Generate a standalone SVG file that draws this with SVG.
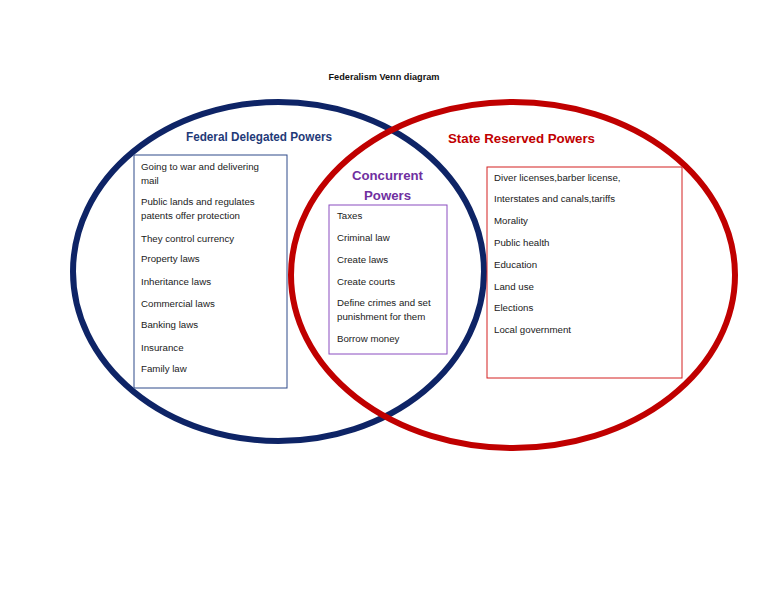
<svg xmlns="http://www.w3.org/2000/svg" width="768" height="594" viewBox="0 0 768 594">
<style>
.item{font-family:"Liberation Sans",Arial,sans-serif;font-size:9.7px;fill:#1a1a1a}
.head{font-family:"Liberation Sans",Arial,sans-serif;font-size:13px;font-weight:bold}
.ring{fill:none;stroke-width:6}
</style>
<rect width="768" height="594" fill="#ffffff"/>
<text x="384" y="80" text-anchor="middle" font-family="Liberation Sans, Arial, sans-serif" font-size="9.5" font-weight="bold" fill="#111" textLength="111" lengthAdjust="spacingAndGlyphs">Federalism Venn diagram</text>
<g id="federal-circle">
<ellipse class="ring" cx="278.5" cy="271.5" rx="205.5" ry="169.5" stroke="#0e2466"/>
</g>
<g id="state-circle">
<ellipse class="ring" cx="513" cy="275" rx="222" ry="173" stroke="#c00000"/>
</g>
<g id="federal">
<text class="head" x="259" y="141" text-anchor="middle" fill="#1f3a78" textLength="146" lengthAdjust="spacingAndGlyphs">Federal Delegated Powers</text>
<rect x="134" y="155" width="153" height="233" fill="none" stroke="#2e4a8a" stroke-width="1"/>
<text class="item" x="141" y="169.5">Going to war and delivering</text>
<text class="item" x="141" y="183.5">mail</text>
<text class="item" x="141" y="204.5">Public lands and regulates</text>
<text class="item" x="141" y="218.5">patents offer protection</text>
<text class="item" x="141" y="241.5">They control currency</text>
<text class="item" x="141" y="261.5">Property laws</text>
<text class="item" x="141" y="284.5">Inheritance laws</text>
<text class="item" x="141" y="306.5">Commercial laws</text>
<text class="item" x="141" y="327.5">Banking laws</text>
<text class="item" x="141" y="350.5">Insurance</text>
<text class="item" x="141" y="371.5">Family law</text>
</g>
<g id="concurrent">
<text class="head" x="387.5" y="180" text-anchor="middle" fill="#7030a0" font-size="14" textLength="71" lengthAdjust="spacingAndGlyphs">Concurrent</text>
<text class="head" x="387.5" y="200" text-anchor="middle" fill="#7030a0" font-size="14" textLength="47" lengthAdjust="spacingAndGlyphs">Powers</text>
<rect x="329" y="205" width="118" height="149" fill="none" stroke="#8a4cc0" stroke-width="1"/>
<text class="item" x="337" y="218.5">Taxes</text>
<text class="item" x="337" y="240.5">Criminal law</text>
<text class="item" x="337" y="262.5">Create laws</text>
<text class="item" x="337" y="284.5">Create courts</text>
<text class="item" x="337" y="305.5">Define crimes and set</text>
<text class="item" x="337" y="319.5">punishment for them</text>
<text class="item" x="337" y="341.5">Borrow money</text>
</g>
<g id="state">
<text class="head" x="521.5" y="143" text-anchor="middle" fill="#c00000" textLength="147" lengthAdjust="spacingAndGlyphs">State Reserved Powers</text>
<rect x="487" y="167" width="195" height="211" fill="none" stroke="#d42020" stroke-width="1"/>
<text class="item" x="494" y="180.5">Diver licenses,barber license,</text>
<text class="item" x="494" y="201.5">Interstates and canals,tariffs</text>
<text class="item" x="494" y="223.5">Morality</text>
<text class="item" x="494" y="245.5">Public health</text>
<text class="item" x="494" y="267.5">Education</text>
<text class="item" x="494" y="289.5">Land use</text>
<text class="item" x="494" y="310.5">Elections</text>
<text class="item" x="494" y="332.5">Local government</text>
</g>
<g id="connectors"></g>
</svg>
